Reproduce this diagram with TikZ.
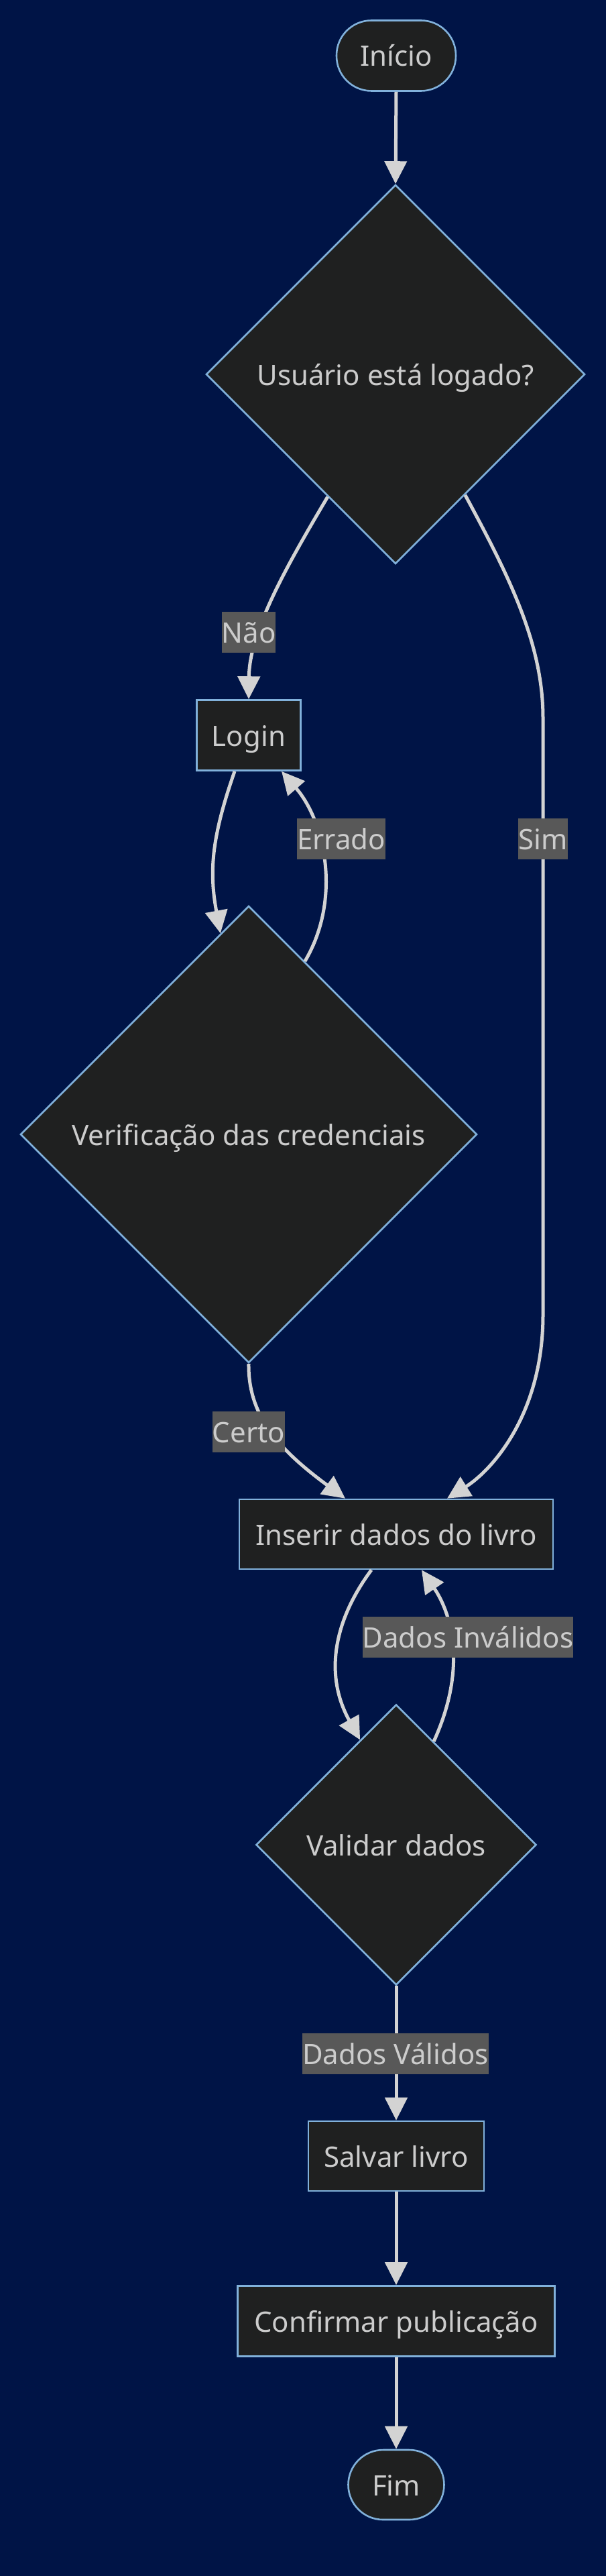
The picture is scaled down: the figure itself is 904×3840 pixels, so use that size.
\documentclass[tikz,border=0pt]{standalone}
\usepackage{fontspec}
\setmainfont{Noto Sans}
\usetikzlibrary{arrows.meta,shapes.geometric}
\definecolor{bg}{RGB}{0,20,70}
\definecolor{nodefill}{HTML}{1F2020}
\definecolor{nodeline}{HTML}{81B1DB}
\definecolor{txt}{HTML}{CCCCCC}
\definecolor{edgecol}{HTML}{D3D3D3}
\definecolor{lblbg}{HTML}{585858}
\begin{document}
\begin{tikzpicture}[x=1pt,y=-1pt,
  every node/.style={font=\fontsize{42}{50}\selectfont, text=txt, text height=32pt, text depth=0pt},
  box/.style={draw=nodeline, fill=nodefill, line width=2.6pt, inner sep=0pt, minimum height=105pt},
  term/.style={box, rounded corners=52pt},
  dec/.style={draw=nodeline, fill=nodefill, line width=2.6pt, diamond, aspect=1, inner sep=0pt},
  conn/.style={draw=edgecol, line width=5pt, -{Triangle[length=34pt,width=33pt]}},
  lbl/.style={fill=lblbg, inner xsep=0pt, inner ysep=0pt, minimum height=61pt}
]
\fill[bg] (0,0) rectangle (904,3840);
\useasboundingbox (0,0) rectangle (904,3840);

\node[term, minimum width=178pt] (inicio) at (591,83) {Início};
\node[dec, minimum width=565pt, minimum height=565pt] (d1) at (590,558) {Usuário está logado?};
\node[box, minimum width=155pt] (login) at (371,1096) {Login};
\node[dec, minimum width=681pt, minimum height=681pt] (d2) at (371,1691) {Verificação das credenciais};
\node[box, minimum width=468pt, minimum height=104pt] (inserir) at (591,2287) {Inserir dados do livro};
\node[dec, minimum width=418pt, minimum height=418pt] (d3) at (591,2750) {Validar dados};
\node[box, minimum width=262pt, minimum height=104pt] (salvar) at (591,3214) {Salvar livro};
\node[box, minimum width=473pt] (confirmar) at (591,3460) {Confirmar publicação};
\node[term, minimum width=143pt, minimum height=104pt] (fim) at (591,3704) {Fim};

\draw[conn] (inicio.south) -- (d1.north);
\draw[conn] (d1.241) .. controls (430,840) and (372,940) .. (login.north);
\draw[conn] (d1.300) .. controls (760,860) and (810,960) .. (810,1070) -- (810,1960) .. controls (810,2110) and (732,2193) .. ([xshift=76pt]inserir.north);
\draw[conn] ([xshift=-21pt]login.south) .. controls (315,1250) and (312,1300) .. (d2.98);
\draw[conn] (d2.72) .. controls (510,1340) and (485,1225) .. ([xshift=49pt]login.south);
\draw[conn] (d2.south) .. controls (370,2110) and (415,2160) .. ([xshift=-76pt]inserir.north);
\draw[conn] ([xshift=-37pt]inserir.south) .. controls (495,2420) and (485,2500) .. (d3.109);
\draw[conn] (d3.70) .. controls (700,2480) and (670,2400) .. ([xshift=38pt]inserir.south);
\draw[conn] (d3.south) -- (salvar.north);
\draw[conn] (salvar.south) -- (confirmar.north);
\draw[conn] (confirmar.south) -- (fim.north);

\node[lbl] (lnao) at (371,942) {Não};
\node[lbl] (lerrado) at (509,1250) {Errado};
\node[lbl] (lsim) at (810,1250) {Sim};
\node[lbl] (lcerto) at (371,2134) {Certo};
\node[lbl] (linv) at (698,2440) {Dados Inválidos};
\node[lbl] (lval) at (590,3061) {Dados Válidos};
\end{tikzpicture}
\end{document}
